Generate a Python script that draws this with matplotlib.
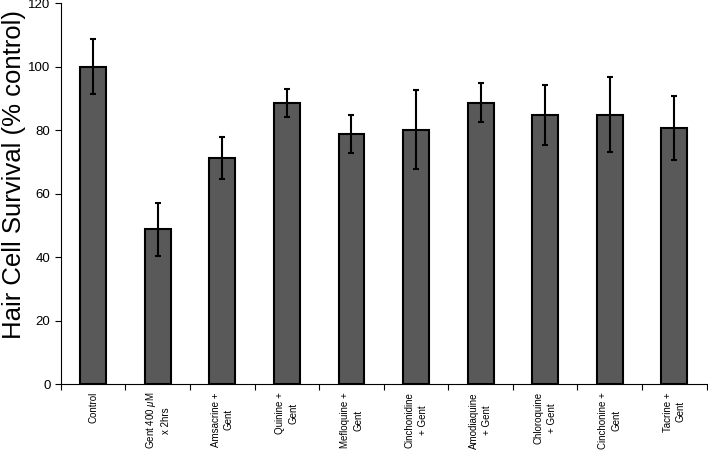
import matplotlib
matplotlib.use("Agg")
import matplotlib.pyplot as plt
import numpy as np

plt.rcParams["font.family"] = ["Liberation Sans", "DejaVu Sans"]
plt.rcParams["mathtext.fontset"] = "custom"
plt.rcParams["mathtext.it"] = "Liberation Sans:italic"

labels = [
    "Control",
    "Gent 400 $\\mu$M\nx 2hrs",
    "Amsacrine +\nGent",
    "Quinine +\nGent",
    "Mefloquine +\nGent",
    "Cinchonidine\n+ Gent",
    "Amodiaquine\n+ Gent",
    "Chloroquine\n+ Gent",
    "Cinchonine +\nGent",
    "Tacrine +\nGent",
]
survival = [100.0, 48.8, 71.3, 88.6, 78.9, 80.1, 88.6, 84.8, 84.8, 80.7]
sem = [8.7, 8.4, 6.6, 4.4, 6.0, 12.4, 6.1, 9.5, 11.8, 10.2]

fig = plt.figure(figsize=(7.08, 4.53), dpi=100)
ax = fig.add_axes([0.086, 0.152, 0.912, 0.841])

x = np.arange(len(labels))
ax.bar(x, survival, width=0.4, color="#595959", edgecolor="black", linewidth=1.5,
       yerr=sem, error_kw=dict(ecolor="black", elinewidth=1.5, capsize=2.5, capthick=1.5))

ax.set_xlim(-0.5, len(labels) - 0.5)
ax.set_ylim(0, 120)
ax.set_yticks(range(0, 121, 20))
ax.tick_params(axis="y", labelsize=9.5, direction="out", length=4, width=0.8)

# ticks sit between the bars, labels are drawn as text under each bar
ax.set_xticks(np.arange(-0.5, len(labels), 1.0))
ax.set_xticklabels([])
ax.tick_params(axis="x", direction="out", length=4, width=0.8)
for xi, lab in zip(x, labels):
    ax.text(xi, -2.5, lab, rotation=90, ha="center", va="top", fontsize=7,
            multialignment="center", linespacing=1.4)

fig.text(0.02, 0.614, "Hair Cell Survival (% control)", rotation=90,
         ha="center", va="center", fontsize=18.5)
ax.spines["top"].set_visible(False)
ax.spines["right"].set_visible(False)
ax.spines["left"].set_linewidth(0.8)
ax.spines["bottom"].set_linewidth(0.8)

fig.savefig("out.png", dpi=100)
